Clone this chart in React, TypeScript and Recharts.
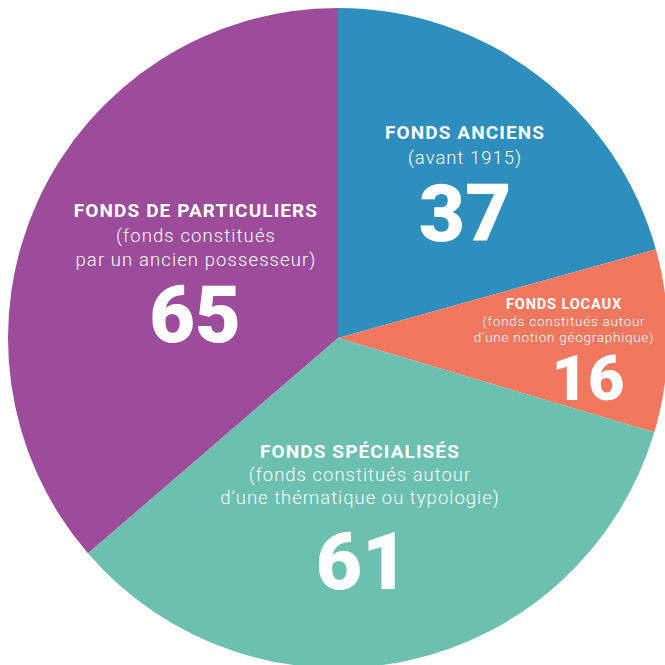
import React from "react";
import { PieChart, Pie, Cell } from "recharts";

// Collections by type (number of fonds)
const categories = ["FONDS ANCIENS", "FONDS LOCAUX", "FONDS SPÉCIALISÉS", "FONDS DE PARTICULIERS"];
const values = [37, 16, 61, 65];
const subtitles = [
	["(avant 1915)"],
	["(fonds constitués autour", "d\u2019une notion géographique)"],
	["(fonds constitués autour", "d\u2019une thématique ou typologie)"],
	["(fonds constitués", "par un ancien possesseur)"],
];
const colors = ["#2E8FBE", "#F2775F", "#6BC0AF", "#9C4C9A"];

// label layout, offsets from pie centre
const labelPos = [
	{ dx: 127, dy: -199, title: 19, sub: 18.5, subGap: 25, big: 80, bigDy: 77, bigX: 0, ls: 1.1, subLs: 1 },
	{ dx: 226, dy: -29, title: 14.5, sub: 13.5, subGap: 16.5, big: 63, bigDy: 58, bigX: 24, ls: 0.9, subLs: 0.75 },
	{ dx: 22, dy: 120, title: 19, sub: 18.5, subGap: 23, big: 80, bigDy: 85, bigX: 2, ls: 1.1, subLs: 1 },
	{ dx: -142, dy: -121, title: 19, sub: 18.5, subGap: 24.5, big: 79, bigDy: 76, bigX: -1, ls: 1.1, subLs: 1.1 },
];

const data = categories.map((name, i) => ({ name, value: values[i] }));

const font = "Roboto, 'Noto Sans', sans-serif";

const renderLabel = (props: any) => {
	const { cx, cy, index } = props;
	const p = labelPos[index];
	const x = cx + p.dx;
	const y = cy + p.dy;
	const subs = subtitles[index];
	return (
		<g key={index}>
			<text
				x={x}
				y={y}
				textAnchor="middle"
				fill="#fff"
				fontFamily={font}
				fontWeight={700}
				fontSize={p.title}
				letterSpacing={p.ls}
			>
				{categories[index]}
			</text>
			{subs.map((s, j) => (
				<text
					key={j}
					x={x}
					y={y + p.subGap * (j + 1)}
					textAnchor="middle"
					fill="#fff"
					fontFamily={font}
					fontWeight={300}
					fontSize={p.sub}
					letterSpacing={p.subLs}
				>
					{s}
				</text>
			))}
			<text
				x={x + p.bigX}
				y={y + p.subGap * subs.length + p.bigDy}
				textAnchor="middle"
				fill="#fff"
				fontFamily={font}
				fontWeight={900}
				fontSize={p.big}
			>
				{values[index]}
			</text>
		</g>
	);
};

export default function App() {
	return (
		<div style={{ width: 665, height: 665 }}>
			<style>{"body{margin:0}"}</style>
			<PieChart width={665} height={665} margin={{ top: 0, right: 0, bottom: 0, left: 0 }}>
				<Pie
					data={data}
					dataKey="value"
					nameKey="name"
					cx={338}
					cy={338}
					outerRadius={330}
					startAngle={90}
					endAngle={-270}
					stroke="none"
					label={renderLabel}
					labelLine={false}
					isAnimationActive={false}
				>
					{data.map((d, i) => (
						<Cell key={d.name} fill={colors[i]} />
					))}
				</Pie>
			</PieChart>
		</div>
	);
}
